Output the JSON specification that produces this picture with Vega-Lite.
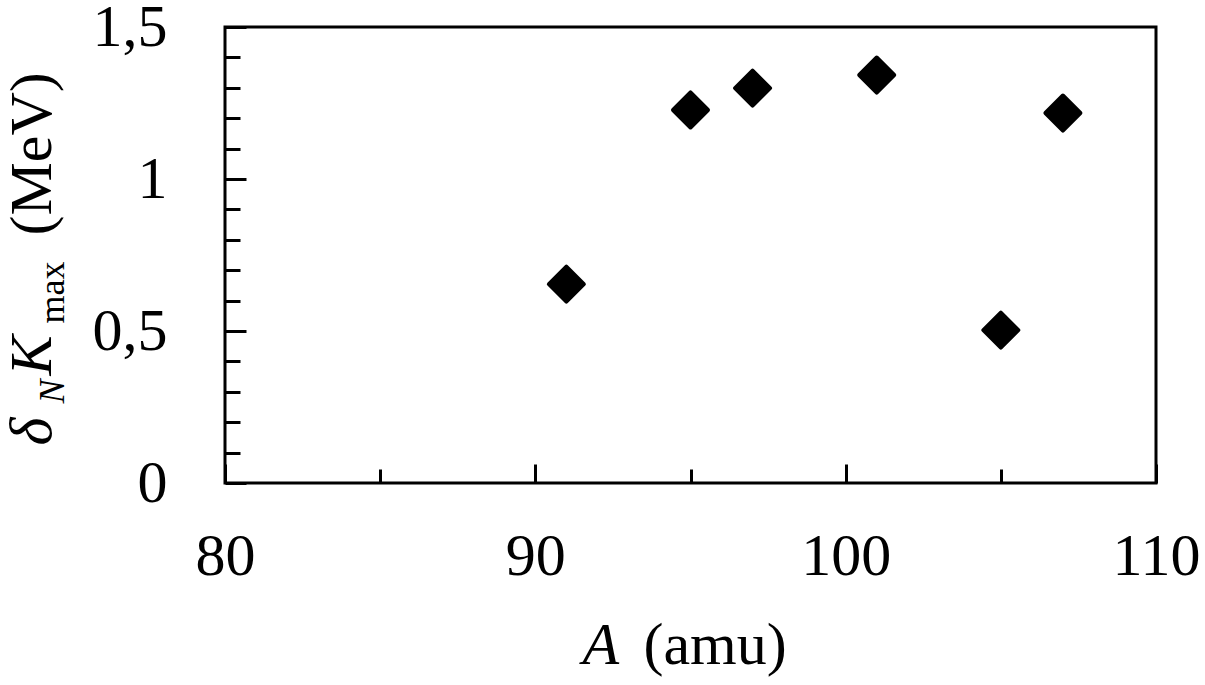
{
  "$schema": "https://vega.github.io/schema/vega-lite/v6.json",
  "width": 931,
  "height": 456,
  "autosize": "none",
  "padding": {"left": 225, "top": 27, "right": 49, "bottom": 202},
  "background": "white",
  "data": {
    "values": [
      {"A": 91, "dK": 0.654},
      {"A": 95, "dK": 1.227},
      {"A": 97, "dK": 1.299},
      {"A": 101, "dK": 1.342},
      {"A": 105, "dK": 0.503},
      {"A": 107, "dK": 1.217}
    ]
  },
  "config": {
    "view": {"stroke": "black", "strokeWidth": 3},
    "axis": {"grid": false, "domain": false, "titleColor": "black", "titleFont": "Liberation Serif", "titleFontWeight": "normal"}
  },
  "layer": [
    {
      "mark": {"type": "point", "shape": "diamond", "size": 1225, "filled": true, "color": "black", "stroke": "black", "strokeWidth": 4, "strokeJoin": "round", "opacity": 1},
      "encoding": {
        "x": {
          "field": "A", "type": "quantitative",
          "scale": {"domain": [80, 110], "nice": false, "zero": false},
          "axis": {
            "orient": "bottom", "title": null,
            "values": [80, 85, 90, 95, 100, 105, 110],
            "tickColor": "black", "tickWidth": 3,
            "tickSize": {"condition": {"test": "datum.value % 10 == 0", "value": -19}, "value": -14},
            "labelExpr": "datum.value % 10 == 0 ? datum.label : ''",
            "labelFont": "Liberation Serif", "labelFontSize": 60, "labelColor": "black",
            "labelPadding": 63, "labelFlush": false, "labelOverlap": false, "labelBound": false, "labelBaseline": "top"
          }
        },
        "y": {
          "field": "dK", "type": "quantitative",
          "scale": {"domain": [0, 1.5], "nice": false},
          "axis": {
            "orient": "left", "title": null,
            "values": [0, 0.1, 0.2, 0.3, 0.4, 0.5, 0.6, 0.7, 0.8, 0.9, 1, 1.1, 1.2, 1.3, 1.4, 1.5],
            "format": ".1~f",
            "tickColor": "black", "tickWidth": 3,
            "tickSize": {"condition": {"test": "abs(datum.value*2 - round(datum.value*2)) < 0.001", "value": -21}, "value": -15},
            "labelExpr": "abs(datum.value*2 - round(datum.value*2)) < 0.001 ? replace(datum.label, '.', ',') : ''",
            "labelFont": "Liberation Serif", "labelFontSize": 60, "labelColor": "black",
            "labelPadding": 79, "labelFlush": false, "labelOverlap": false, "labelBound": false, "labelBaseline": "middle"
          }
        }
      }
    },
    {
      "transform": [{"filter": "false"}],
      "mark": "point",
      "encoding": {
        "x": {"field": "A", "type": "quantitative", "scale": {"domain": [80, 110], "nice": false, "zero": false},
          "axis": {"orient": "bottom", "title": "A", "ticks": false, "labels": false, "domain": false, "titleFontStyle": "italic", "titleFontSize": 60, "titleX": 357, "titleY": 180, "titleAlign": "left", "titleBaseline": "alphabetic", "titleAngle": 0}},
        "y": {"field": "dK", "type": "quantitative", "scale": {"domain": [0, 1.5], "nice": false},
          "axis": {"orient": "left", "title": "δ", "ticks": false, "labels": false, "domain": false, "titleFontStyle": "italic", "titleFontSize": 60, "titleX": -175, "titleY": 418, "titleAlign": "left", "titleBaseline": "alphabetic", "titleAngle": 270}}
      }
    },
    {
      "transform": [{"filter": "false"}],
      "mark": "point",
      "encoding": {
        "x": {"field": "A", "type": "quantitative", "scale": {"domain": [80, 110], "nice": false, "zero": false},
          "axis": {"orient": "bottom", "title": "(amu)", "ticks": false, "labels": false, "domain": false, "titleFontStyle": "normal", "titleFontSize": 60, "titleX": 418, "titleY": 180, "titleAlign": "left", "titleBaseline": "alphabetic", "titleAngle": 0}},
        "y": {"field": "dK", "type": "quantitative", "scale": {"domain": [0, 1.5], "nice": false},
          "axis": {"orient": "left", "title": "N", "ticks": false, "labels": false, "domain": false, "titleFontStyle": "italic", "titleFontSize": 36, "titleX": -162, "titleY": 376, "titleAlign": "left", "titleBaseline": "alphabetic", "titleAngle": 270}}
      }
    },
    {
      "transform": [{"filter": "false"}],
      "mark": "point",
      "encoding": {
        "y": {"field": "dK", "type": "quantitative", "scale": {"domain": [0, 1.5], "nice": false},
          "axis": {"orient": "left", "title": "K", "ticks": false, "labels": false, "domain": false, "titleFontStyle": "italic", "titleFontSize": 60, "titleX": -175, "titleY": 348, "titleAlign": "left", "titleBaseline": "alphabetic", "titleAngle": 270}}
      }
    },
    {
      "transform": [{"filter": "false"}],
      "mark": "point",
      "encoding": {
        "y": {"field": "dK", "type": "quantitative", "scale": {"domain": [0, 1.5], "nice": false},
          "axis": {"orient": "left", "title": "max", "ticks": false, "labels": false, "domain": false, "titleFontStyle": "normal", "titleFontSize": 36, "titleX": -162, "titleY": 296, "titleAlign": "left", "titleBaseline": "alphabetic", "titleAngle": 270}}
      }
    },
    {
      "transform": [{"filter": "false"}],
      "mark": "point",
      "encoding": {
        "y": {"field": "dK", "type": "quantitative", "scale": {"domain": [0, 1.5], "nice": false},
          "axis": {"orient": "left", "title": "(MeV)", "ticks": false, "labels": false, "domain": false, "titleFontStyle": "normal", "titleFontSize": 60, "titleX": -175, "titleY": 208, "titleAlign": "left", "titleBaseline": "alphabetic", "titleAngle": 270}}
      }
    }
  ],
  "resolve": {"axis": {"x": "independent", "y": "independent"}}
}
